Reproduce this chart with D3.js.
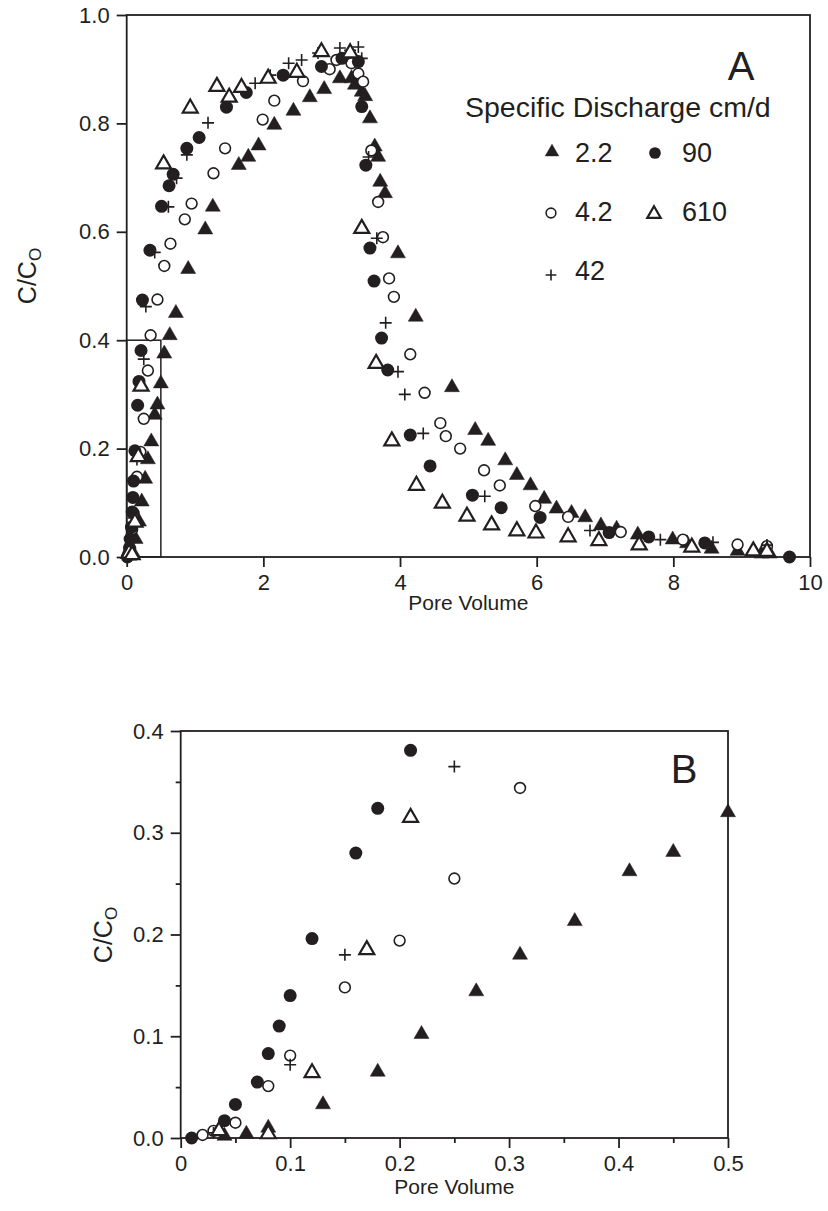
<!DOCTYPE html>
<html>
<head>
<meta charset="utf-8">
<script src="https://cdn.jsdelivr.net/npm/d3@7"></script>
<style>
  body { margin: 0; background: #fff; }
  svg text { font-family: "Liberation Sans", Arial, Helvetica, sans-serif; fill: #231f20; }
</style>
</head>
<body>
<svg id="chart" width="828" height="1211"></svg>
<script>
// breakthrough data, [pore volume, C/Co], one array per specific discharge (cm/d)
var q22 = [[0.04,0.002],[0.06,0.004],[0.08,0.01],[0.13,0.033],[0.18,0.065],[0.22,0.102],[0.27,0.144],[0.31,0.18],[0.36,0.213],[0.41,0.262],[0.45,0.281],[0.5,0.32],
  [0.55,0.375],[0.63,0.409],[0.72,0.45],[0.9,0.531],[1.15,0.604],[1.26,0.646],[1.64,0.723],[1.78,0.738],[1.93,0.759],[2.16,0.797],[2.44,0.823],[2.68,0.848],[2.89,0.863],
  [3.12,0.883],[3.29,0.883],[3.34,0.871],[3.44,0.858],[3.49,0.85],[3.56,0.809],[3.63,0.757],[3.68,0.738],[3.71,0.692],[3.78,0.671],[3.97,0.56],[4.23,0.443],[4.76,0.313],
  [5.1,0.234],[5.29,0.214],[5.54,0.178],[5.71,0.151],[5.91,0.132],[6.11,0.107],[6.29,0.089],[6.51,0.081],[6.71,0.073],[6.94,0.058],[7.17,0.052],[7.48,0.041],[7.99,0.032],
  [8.2,0.025],[8.56,0.015],[8.94,0.011],[9.29,0.006],[9.41,0.006]];
var q42 = [[0.02,0.003],[0.03,0.007],[0.05,0.015],[0.08,0.051],[0.1,0.081],[0.15,0.148],[0.2,0.194],[0.25,0.255],[0.31,0.344],
  [0.35,0.409],[0.45,0.475],[0.55,0.537],[0.64,0.578],[0.85,0.623],[0.95,0.652],[1.27,0.708],[1.44,0.754],[1.99,0.807],[2.16,0.842],[2.58,0.878],[2.97,0.9],[3.07,0.917],
  [3.29,0.911],[3.39,0.892],[3.46,0.877],[3.58,0.75],[3.68,0.655],[3.75,0.59],[3.84,0.514],[3.91,0.48],[4.15,0.374],[4.36,0.303],[4.59,0.247],[4.67,0.223],[4.88,0.2],
  [5.23,0.16],[5.46,0.132],[5.98,0.094],[6.46,0.074],[7.23,0.046],[8.14,0.032],[8.94,0.023],[9.37,0.02]];
var q420 = [[0.03,0.005],[0.1,0.072],[0.15,0.18],[0.25,0.365],[0.28,0.462],[0.41,0.562],[0.61,0.646],[0.73,0.699],[0.88,0.742],[1.19,0.801],[1.88,0.874],[2.1,0.889],
  [2.37,0.911],[2.56,0.917],[2.8,0.93],[3.12,0.939],[3.27,0.935],[3.39,0.941],[3.44,0.92],[3.54,0.738],[3.66,0.588],[3.79,0.432],[3.97,0.342],[4.07,0.3],[4.34,0.228],
  [5.24,0.112],[6.78,0.049],[7.81,0.032],[8.58,0.027],[9.37,0.022]];
var q90 = [[0.01,0.0],[0.04,0.017],[0.05,0.033],[0.07,0.055],[0.08,0.083],[0.09,0.11],[0.1,0.14],[0.12,0.196],[0.16,0.28],[0.18,0.324],[0.21,0.381],
  [0.23,0.474],[0.34,0.566],[0.51,0.647],[0.62,0.685],[0.68,0.706],[0.88,0.754],[1.06,0.774],[1.46,0.83],[1.75,0.857],[2.29,0.889],[2.85,0.905],[3.15,0.92],[3.39,0.914],
  [3.44,0.831],[3.5,0.723],[3.56,0.57],[3.62,0.509],[3.73,0.404],[3.82,0.345],[4.15,0.225],[4.44,0.168],[5.06,0.114],[5.48,0.091],[6.05,0.073],[7.06,0.045],[7.64,0.037],
  [8.46,0.026],[9.7,0.0]];
var q610 = [[0.035,0.007],[0.08,0.004],[0.12,0.064],[0.17,0.185],[0.21,0.315],[0.54,0.725],[0.93,0.828],[1.32,0.868],[1.5,0.848],[1.68,0.866],[2.07,0.883],[2.49,0.894],
  [2.85,0.932],[3.27,0.93],[3.44,0.606],[3.65,0.357],[3.88,0.214],[4.24,0.132],[4.62,0.099],[4.98,0.075],[5.34,0.059],[5.71,0.048],[5.99,0.044],[6.46,0.037],[6.91,0.03],
  [7.5,0.022],[8.27,0.018],[9.17,0.011],[9.37,0.01]];

var xTicksA = [0, 2, 4, 6, 8, 10];
var yTicksA = [0, 0.2, 0.4, 0.6, 0.8, 1.0];
var xTicksB = [0, 0.1, 0.2, 0.3, 0.4, 0.5];
var yTicksB = [0, 0.1, 0.2, 0.3, 0.4];
var minorB = [0.05, 0.15, 0.25, 0.35, 0.45];

// legend order: [label, series, marker]
var series = [
  {label: "2.2", data: q22, mark: "triFill"},
  {label: "4.2", data: q42, mark: "circOpen"},
  {label: "42", data: q420, mark: "plus"},
  {label: "90", data: q90, mark: "circFill"},
  {label: "610", data: q610, mark: "triOpen"}
];

var ink = "#231f20";
var svg = d3.select("#chart");

function drawMark(g, type, big) {
  var k = big ? 1 : 0.9;
  if (type == "triFill" || type == "triOpen") {
    var s = 15 * k, h = s / Math.sqrt(3);
    g.append("path")
      .attr("d", "M0," + (-h) + "L" + (s / 2) + "," + (h / 2) + "L" + (-s / 2) + "," + (h / 2) + "Z")
      .attr("fill", type == "triFill" ? ink : "#fff")
      .attr("stroke", ink)
      .attr("stroke-width", type == "triFill" ? 0.5 : 2.2)
      .attr("stroke-linejoin", "miter");
  } else if (type == "circFill") {
    g.append("circle").attr("r", 6.5 * k).attr("fill", ink);
  } else if (type == "circOpen") {
    g.append("circle").attr("r", 5.4 * k).attr("fill", "#fff").attr("stroke", ink).attr("stroke-width", 1.6);
  } else {
    var p = 6 * k;
    g.append("path").attr("d", "M" + (-p) + ",0H" + p + "M0," + (-p) + "V" + p)
      .attr("stroke", ink).attr("stroke-width", 1.6).attr("fill", "none");
  }
}

function panel(opt) {
  var x = d3.scaleLinear().domain(opt.xDomain).range([opt.left, opt.right]);
  var y = d3.scaleLinear().domain(opt.yDomain).range([opt.bottom, opt.top]);
  var g = svg.append("g");

  g.append("g").attr("transform", "translate(0," + opt.bottom + ")")
    .call(d3.axisBottom(x).tickValues(opt.xTicks).tickSize(10).tickSizeOuter(0).tickPadding(7).tickFormat(opt.xFmt));
  g.append("g").attr("transform", "translate(" + opt.left + ",0)")
    .call(d3.axisLeft(y).tickValues(opt.yTicks).tickSize(10).tickSizeOuter(0).tickPadding(7).tickFormat(d3.format(".1f")));
  if (opt.minorX) {
    g.append("g").attr("transform", "translate(0," + opt.bottom + ")")
      .call(d3.axisBottom(x).tickValues(opt.minorX).tickSize(5).tickSizeOuter(0).tickFormat(""));
    g.append("g").attr("transform", "translate(" + opt.left + ",0)")
      .call(d3.axisLeft(y).tickValues(opt.minorY).tickSize(5).tickSizeOuter(0).tickFormat(""));
  }
  g.selectAll(".domain").remove();
  g.selectAll(".tick line").attr("stroke", ink).attr("stroke-width", 1.8);
  g.selectAll(".tick text").attr("font-size", opt.tickFont).style("fill", ink);

  // frame
  g.append("rect")
    .attr("x", opt.left).attr("y", opt.top)
    .attr("width", opt.right - opt.left).attr("height", opt.bottom - opt.top)
    .attr("fill", "none").attr("stroke", ink).attr("stroke-width", 1.8);

  if (opt.inset) {
    g.append("rect")
      .attr("x", x(0)).attr("y", y(opt.inset[1]))
      .attr("width", x(opt.inset[0]) - x(0)).attr("height", y(0) - y(opt.inset[1]))
      .attr("fill", "none").attr("stroke", ink).attr("stroke-width", 1.5);
  }

  series.forEach(function(s) {
    var pts = s.data.filter(function(d) {
      return d[0] <= opt.xDomain[1] + 1e-9 && d[1] <= opt.yDomain[1] + 1e-9;
    });
    pts.forEach(function(d) {
      var m = g.append("g").attr("transform", "translate(" + x(d[0]) + "," + y(d[1]) + ")");
      drawMark(m, s.mark, true);
    });
  });

  g.append("text")
    .attr("x", (opt.left + opt.right) / 2).attr("y", opt.xTitleY)
    .attr("text-anchor", "middle").attr("font-size", opt.titleFont)
    .text("Pore Volume");

  var yt = g.append("text")
    .attr("transform", "translate(" + opt.yTitleX + "," + opt.yTitleY + ") rotate(-90)")
    .attr("text-anchor", "middle").attr("font-size", opt.yTitleFont);
  yt.append("tspan").text("C/C");
  yt.append("tspan").attr("font-size", opt.yTitleFont * 0.68).attr("dy", 5).text("O");

  g.append("text")
    .attr("x", opt.letterX).attr("y", opt.letterY)
    .attr("text-anchor", "middle").attr("font-size", 40)
    .text(opt.letter);
  return g;
}

var gA = panel({
  left: 126.7, right: 810, top: 15, bottom: 557,
  xDomain: [0, 10], yDomain: [0, 1],
  xTicks: xTicksA, yTicks: yTicksA,
  xFmt: d3.format("d"),
  tickFont: 22, titleFont: 21, yTitleFont: 25,
  xTitleY: 610, yTitleX: 36, yTitleY: 276,
  inset: [0.5, 0.4],
  letter: "A", letterX: 741, letterY: 80
});

var gB = panel({
  left: 180.7, right: 728, top: 731, bottom: 1138,
  xDomain: [0, 0.5], yDomain: [0, 0.4],
  xTicks: xTicksB, yTicks: yTicksB,
  minorX: minorB, minorY: minorB.filter(function(d) { return d < 0.4; }),
  xFmt: function(d) { return d === 0 ? "0" : d3.format(".1f")(d); },
  tickFont: 22, titleFont: 21, yTitleFont: 25,
  xTitleY: 1194, yTitleX: 112, yTitleY: 935,
  letter: "B", letterX: 684, letterY: 783
});

// legend in panel A
gA.append("text").attr("x", 465).attr("y", 117).attr("font-size", 28.5).text("Specific Discharge cm/d");
var legPos = [[552, 152, 575, 162], [551, 213, 575, 221], [551, 275, 575, 280], [655, 153, 682, 162], [654, 214, 682, 221]];
series.forEach(function(s, i) {
  var p = legPos[i];
  var m = gA.append("g").attr("transform", "translate(" + p[0] + "," + p[1] + ")");
  drawMark(m, s.mark, false);
  gA.append("text").attr("x", p[2]).attr("y", p[3]).attr("font-size", 27).text(s.label);
});
</script>
</body>
</html>
